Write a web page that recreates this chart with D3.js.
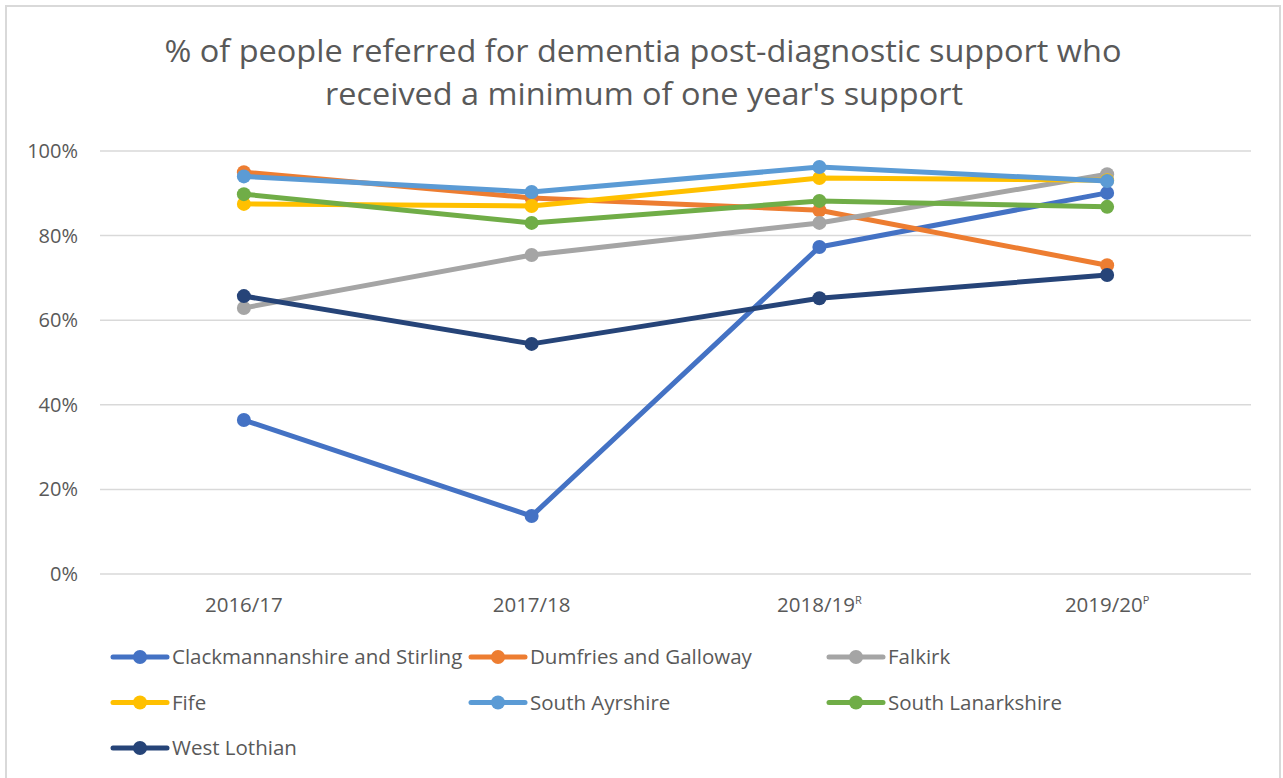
<!DOCTYPE html>
<html>
<head>
<meta charset="utf-8">
<script src="https://cdn.jsdelivr.net/npm/d3@7"></script>
<style>
  body { margin: 0; background: #fff; }
  svg { display: block; font-family: "Open Sans", "Noto Sans", sans-serif; }
</style>
</head>
<body>
<svg id="chart" width="1283" height="778"></svg>
<script>
// 数据
const years = ["2016/17", "2017/18", "2018/19", "2019/20"];
const yearSup = ["", "", "R", "P"];
const yTicks = [0, 0.2, 0.4, 0.6, 0.8, 1.0];

const seriesNames = [
  "Clackmannanshire and Stirling", "Dumfries and Galloway", "Falkirk",
  "Fife", "South Ayrshire", "South Lanarkshire", "West Lothian"
];
const seriesColors = ["#4472C4", "#ED7D31", "#A5A5A5", "#FFC000", "#5B9BD5", "#70AD47", "#264478"];

const clackmannanshire = [0.364, 0.137, 0.773, 0.901];
const dumfries        = [0.950, 0.889, 0.860, 0.730];
const falkirk         = [0.629, 0.754, 0.830, 0.945];
const fife            = [0.875, 0.870, 0.936, 0.931];
const southAyrshire   = [0.940, 0.903, 0.962, 0.929];
const southLanarkshire= [0.898, 0.830, 0.882, 0.868];
const westLothian     = [0.657, 0.544, 0.652, 0.707];

const seriesValues = [clackmannanshire, dumfries, falkirk, fife, southAyrshire, southLanarkshire, westLothian];

const svg = d3.select("#chart");

// 外框
svg.append("path")
  .attr("d", "M6,778 V6 H1280 V778")
  .attr("fill", "none")
  .attr("stroke", "#d9d9d9")
  .attr("stroke-width", 2);

// 标题
const title = svg.append("text")
  .attr("text-anchor", "middle")
  .attr("fill", "#595959")
  .style("font-size", "31px");
title.append("tspan").attr("x", 643).attr("y", 62)
  .attr("textLength", 957).attr("lengthAdjust", "spacingAndGlyphs")
  .text("% of people referred for dementia post-diagnostic support who");
title.append("tspan").attr("x", 644).attr("y", 105)
  .attr("textLength", 638).attr("lengthAdjust", "spacingAndGlyphs")
  .text("received a minimum of one year's support");

// 比例尺
const x = d3.scalePoint().domain(years).range([100, 1251]).padding(0.5);
const y = d3.scaleLinear().domain([0, 1]).range([574, 151]);

// 网格线
svg.append("g")
  .selectAll("line")
  .data(yTicks)
  .enter()
  .append("line")
  .attr("x1", 100).attr("x2", 1251)
  .attr("y1", d => y(d)).attr("y2", d => y(d))
  .attr("stroke", "#d9d9d9")
  .attr("stroke-width", 1.5);

// y轴标签
svg.append("g")
  .selectAll("text")
  .data(yTicks)
  .enter()
  .append("text")
  .attr("x", 78)
  .attr("y", d => y(d) + 7)
  .attr("text-anchor", "end")
  .attr("fill", "#595959")
  .style("font-size", "20px")
  .text(d => d3.format(".0%")(d));

// x轴标签
const xl = svg.append("g")
  .selectAll("text")
  .data(years)
  .enter()
  .append("text")
  .attr("x", d => x(d))
  .attr("y", 612)
  .attr("text-anchor", "middle")
  .attr("fill", "#595959")
  .style("font-size", "20.5px");
xl.append("tspan").text(d => d);
xl.append("tspan")
  .attr("dy", -8)
  .style("font-size", "11px")
  .text((d, i) => yearSup[i]);

// 折线
const line = d3.line()
  .x((d, i) => x(years[i]))
  .y(d => y(d));

const series = svg.append("g")
  .selectAll("g")
  .data(seriesValues)
  .enter()
  .append("g");

series.append("path")
  .attr("d", d => line(d))
  .attr("fill", "none")
  .attr("stroke", (d, i) => seriesColors[i])
  .attr("stroke-width", 5)
  .attr("stroke-linejoin", "round")
  .attr("stroke-linecap", "round");

series.each(function(vals, si) {
  d3.select(this).selectAll("circle")
    .data(vals)
    .enter()
    .append("circle")
    .attr("cx", (d, i) => x(years[i]))
    .attr("cy", d => y(d))
    .attr("r", 7)
    .attr("fill", seriesColors[si]);
});

// 图例
const legend = svg.append("g")
  .selectAll("g")
  .data(seriesNames)
  .enter()
  .append("g")
  .attr("transform", (d, i) => `translate(${113 + (i % 3) * 358},${657 + Math.floor(i / 3) * 45.5})`);

legend.append("line")
  .attr("x1", 0).attr("x2", 54)
  .attr("stroke", (d, i) => seriesColors[i])
  .attr("stroke-width", 5)
  .attr("stroke-linecap", "round");
legend.append("circle")
  .attr("cx", 27)
  .attr("r", 7)
  .attr("fill", (d, i) => seriesColors[i]);
legend.append("text")
  .attr("x", 59)
  .attr("y", 7)
  .attr("fill", "#595959")
  .style("font-size", "20.5px")
  .text(d => d);
</script>
</body>
</html>
